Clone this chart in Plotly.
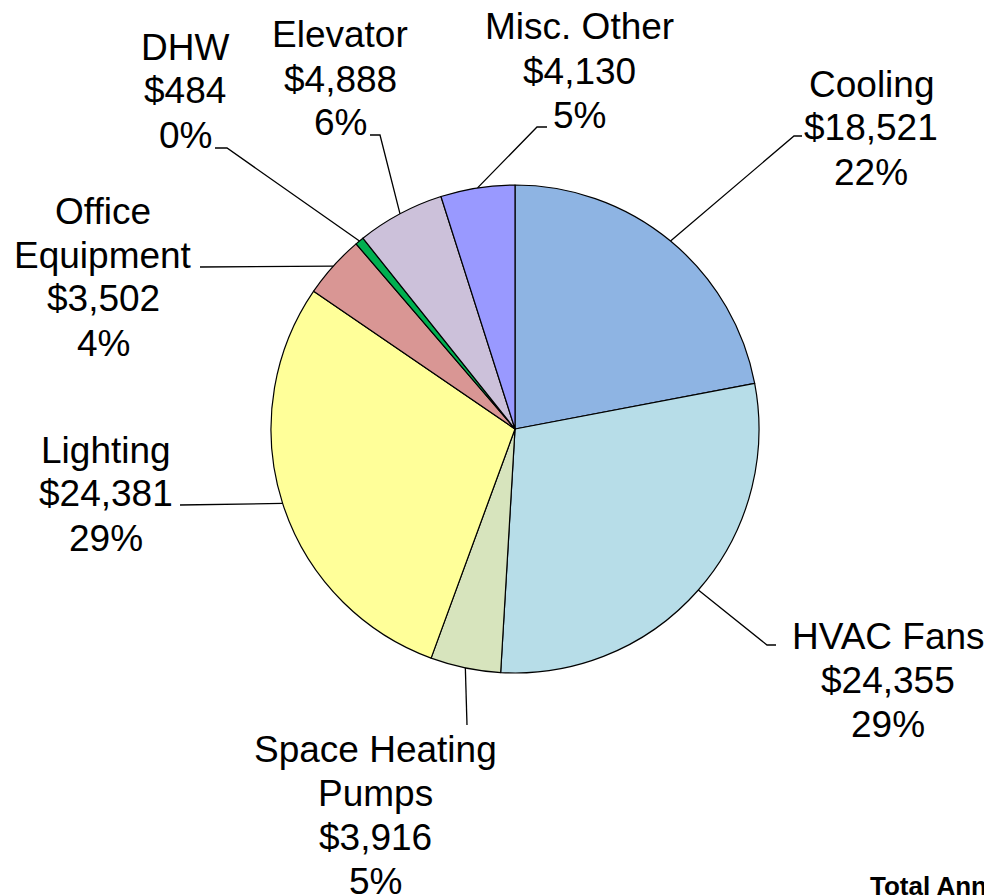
import math
import plotly.graph_objects as go

# energy cost breakdown (clockwise from 12 o'clock)
categories = ["Cooling", "HVAC Fans", "Space Heating\nPumps", "Lighting",
              "Office\nEquipment", "DHW", "Elevator", "Misc. Other"]
costs = [18521, 24355, 3916, 24381, 3502, 484, 4888, 4130]
pct_labels = ["22%", "29%", "5%", "29%", "4%", "0%", "6%", "5%"]
colors = ["#8EB4E3", "#B7DDE8", "#D7E4BD", "#FFFF99",
          "#D99694", "#00B050", "#CCC1DA", "#9999FF"]

# the page body has an 8px margin, so the figure is drawn 8px in
OFF = 8
W, H = 992 - OFF, 896 - OFF
CX, CY, R = 515, 429, 244   # pie centre / radius in window pixels

# label block placement: (x centre, y of first line), window pixels
label_pos = [(871, 84), (888, 636), (375, 749), (106, 450),
             (103, 211), (185, 47), (340, 35), (579, 27)]
# leader line: elbow and end point, window pixels
leader_pts = [((794, 136), (802, 136)), ((767, 645), (776, 645)),
              ((467, 725), (467, 725)), ((180, 505), (180, 505)),
              ((200, 267), (200, 267)), ((227, 148), (215, 148)),
              ((380, 135), (370, 135)), ((537, 127), (547, 127))]
LINE_H = 44
FONT = "Liberation Sans, Arial"


def px(x):
    return (x - OFF) / W


def py(y):
    return 1 - (y - OFF) / H


fig = go.Figure(go.Pie(
    labels=[c.replace("\n", " ") for c in categories],
    values=costs,
    sort=False,
    direction="clockwise",
    rotation=0,
    textinfo="none",
    hoverinfo="label+value+percent",
    marker=dict(colors=colors, line=dict(color="black", width=1.2)),
    domain=dict(x=[px(CX - R), px(CX + R)], y=[py(CY + R), py(CY - R)]),
    showlegend=False,
))

total = sum(costs)
annotations = []
shapes = []
cum = 0
for name, val, pct, (lx, ly), (elbow, end) in zip(categories, costs, pct_labels,
                                                  label_pos, leader_pts):
    mid = (cum + val / 2) / total
    cum += val
    ang = 2 * math.pi * mid
    ex = CX + R * math.sin(ang)
    ey = CY - R * math.cos(ang)
    shapes.append(dict(
        type="path", xref="paper", yref="paper",
        path="M {},{} L {},{} L {},{}".format(px(ex), py(ey), px(elbow[0]), py(elbow[1]),
                                             px(end[0]), py(end[1])),
        line=dict(color="black", width=1.3),
    ))
    lines = name.split("\n") + ["${:,}".format(val), pct]
    for i, t in enumerate(lines):
        annotations.append(dict(
            x=px(lx), y=py(ly + i * LINE_H), xref="paper", yref="paper",
            text=t, showarrow=False, xanchor="center", yanchor="middle",
            font=dict(family=FONT, size=37, color="black"),
        ))

annotations.append(dict(
    x=px(868), y=py(869), xref="paper", yref="paper",
    text="<b>Total Annual Cost: $84,177</b>", showarrow=False,
    xanchor="left", yanchor="top",
    font=dict(family=FONT, size=26, color="black"),
))

fig.update_layout(
    width=W, height=H,
    margin=dict(l=0, r=0, t=0, b=0, pad=0),
    paper_bgcolor="white",
    plot_bgcolor="white",
    annotations=annotations,
    shapes=shapes,
)

fig.write_html("out.html")
